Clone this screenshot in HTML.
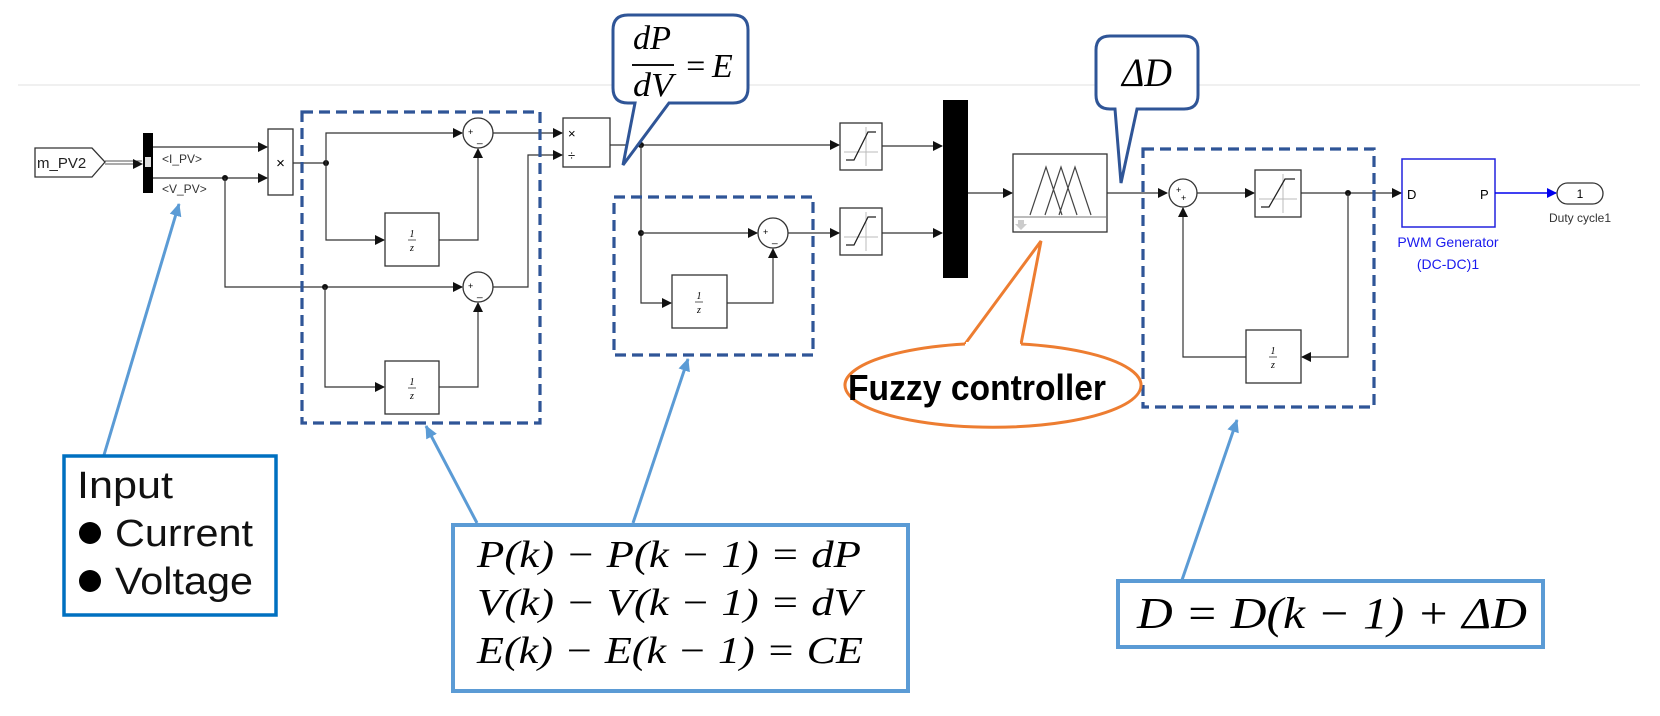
<!DOCTYPE html>
<html><head><meta charset="utf-8"><style>
html,body{margin:0;padding:0;background:#fff;}
svg{display:block}
.blk{fill:#fff;stroke:#333;stroke-width:1.3}
.ln{stroke:#333;stroke-width:1.2;fill:none}
.dash{fill:none;stroke:#2f5597;stroke-width:3.2;stroke-dasharray:11 6}
.sans{font-family:"Liberation Sans",Arial,sans-serif}
.math{font-family:"Liberation Serif",serif;font-style:italic}
</style></head><body>
<svg width="1660" height="716" viewBox="0 0 1660 716" xmlns="http://www.w3.org/2000/svg">
<defs>
<marker id="a" markerWidth="10" markerHeight="10" refX="9" refY="5" orient="auto" markerUnits="userSpaceOnUse"><path d="M0,0 L10,5 L0,10z" fill="#111"/></marker>
<marker id="ab" markerWidth="10" markerHeight="10" refX="9" refY="5" orient="auto" markerUnits="userSpaceOnUse"><path d="M0,0 L10,5 L0,10z" fill="#0000ee"/></marker>
<marker id="al" markerWidth="14" markerHeight="14" refX="12" refY="7" orient="auto" markerUnits="userSpaceOnUse"><path d="M0,1 L13,7 L0,13z" fill="#5b9bd5"/></marker>
</defs>
<line x1="18" y1="85" x2="1640" y2="85" stroke="#ececec" stroke-width="1.5"/>

<!-- m_PV2 -->
<path d="M35,148 L92,148 L105,162 L92,177 L35,177z" class="blk"/>
<text x="37" y="168" class="sans" font-size="15" fill="#222">m_PV2</text>
<line x1="105" y1="161" x2="142" y2="161" stroke="#555" stroke-width="1"/>
<line x1="105" y1="164" x2="142" y2="164" stroke="#555" stroke-width="1" marker-end="url(#a)"/>
<rect x="143" y="133" width="10" height="60" fill="#000"/>
<rect x="145" y="157" width="6" height="10" fill="#ddd"/>
<text x="162" y="163" class="sans" font-size="12" fill="#333">&lt;I_PV&gt;</text>
<text x="162" y="193" class="sans" font-size="12" fill="#333">&lt;V_PV&gt;</text>
<line x1="153" y1="147" x2="267" y2="147" class="ln" marker-end="url(#a)"/>
<line x1="153" y1="178" x2="267" y2="178" class="ln" marker-end="url(#a)"/>
<circle cx="225" cy="178" r="3" fill="#111"/>
<rect x="268" y="129" width="25" height="66" class="blk"/>
<text x="280.5" y="168" class="sans" font-size="15" text-anchor="middle">×</text>

<!-- box1 internals -->
<path d="M293,163 L326,163" class="ln"/>
<circle cx="326" cy="163" r="3" fill="#111"/>
<path d="M326,163 L326,133 L462,133" class="ln" marker-end="url(#a)"/>
<path d="M326,163 L326,240 L384,240" class="ln" marker-end="url(#a)"/>
<rect x="385" y="213" width="54" height="53" class="blk"/>
<text x="412" y="237" class="math" font-size="10" text-anchor="middle" font-style="normal">1</text><line x1="408" y1="240" x2="416" y2="240" stroke="#333" stroke-width="0.8"/><text x="412" y="251" class="math" font-size="10" text-anchor="middle">z</text>
<path d="M439,240 L478,240 L478,149" class="ln" marker-end="url(#a)"/>
<circle cx="478" cy="133" r="15" class="blk"/>
<text x="468" y="135" class="sans" font-size="9">+</text><text x="477" y="142" class="sans" font-size="10">_</text>
<path d="M493,133 L562,133" class="ln" marker-end="url(#a)"/>

<path d="M225,178 L225,287 L462,287" class="ln" marker-end="url(#a)"/>
<circle cx="325" cy="287" r="3" fill="#111"/>
<path d="M325,287 L325,387 L384,387" class="ln" marker-end="url(#a)"/>
<rect x="385" y="361" width="54" height="53" class="blk"/>
<text x="412" y="385" class="math" font-size="10" text-anchor="middle" font-style="normal">1</text><line x1="408" y1="388" x2="416" y2="388" stroke="#333" stroke-width="0.8"/><text x="412" y="399" class="math" font-size="10" text-anchor="middle">z</text>
<path d="M439,387 L478,387 L478,303" class="ln" marker-end="url(#a)"/>
<circle cx="478" cy="287" r="15" class="blk"/>
<text x="468" y="289" class="sans" font-size="9">+</text><text x="477" y="296" class="sans" font-size="10">_</text>
<path d="M493,287 L528,287 L528,155 L562,155" class="ln" marker-end="url(#a)"/>
<rect x="302" y="112" width="238" height="311" class="dash"/>

<!-- divide -->
<rect x="563" y="118" width="47" height="49" class="blk"/>
<text x="568" y="138" class="sans" font-size="13">×</text><text x="568" y="160" class="sans" font-size="13">÷</text>
<path d="M610,145 L839,145" class="ln" marker-end="url(#a)"/>
<circle cx="641" cy="145" r="3" fill="#111"/>
<path d="M641,145 L641,303 L671,303" class="ln" marker-end="url(#a)"/>
<circle cx="641" cy="233" r="3" fill="#111"/>
<path d="M641,233 L757,233" class="ln" marker-end="url(#a)"/>
<circle cx="773" cy="233" r="15" class="blk"/>
<text x="763" y="235" class="sans" font-size="9">+</text><text x="772" y="242" class="sans" font-size="10">_</text>
<rect x="672" y="275" width="55" height="53" class="blk"/>
<text x="699" y="299" class="math" font-size="10" text-anchor="middle" font-style="normal">1</text><line x1="695" y1="302" x2="703" y2="302" stroke="#333" stroke-width="0.8"/><text x="699" y="313" class="math" font-size="10" text-anchor="middle">z</text>
<path d="M727,303 L773,303 L773,249" class="ln" marker-end="url(#a)"/>
<path d="M788,233 L839,233" class="ln" marker-end="url(#a)"/>
<rect x="614" y="197" width="199" height="158" class="dash"/>

<!-- saturations -->
<rect x="840" y="123" width="42" height="47" class="blk"/>
<line x1="866" y1="127" x2="866" y2="166" stroke="#bbb" stroke-width="1"/><line x1="844" y1="152" x2="878" y2="152" stroke="#bbb" stroke-width="1"/>
<path d="M846,160 L854,160 L868,132 L876,132" stroke="#222" stroke-width="1.3" fill="none"/>
<rect x="840" y="208" width="42" height="47" class="blk"/>
<line x1="866" y1="212" x2="866" y2="251" stroke="#bbb" stroke-width="1"/><line x1="844" y1="237" x2="878" y2="237" stroke="#bbb" stroke-width="1"/>
<path d="M846,245 L854,245 L868,217 L876,217" stroke="#222" stroke-width="1.3" fill="none"/>
<path d="M882,146 L942,146" class="ln" marker-end="url(#a)"/>
<path d="M882,233 L942,233" class="ln" marker-end="url(#a)"/>
<rect x="943" y="100" width="25" height="178" fill="#000"/>
<path d="M968,193 L1012,193" class="ln" marker-end="url(#a)"/>

<!-- fuzzy -->
<rect x="1013" y="154" width="94" height="78" class="blk"/>
<line x1="1013" y1="217" x2="1107" y2="217" stroke="#777" stroke-width="1"/>
<path d="M1030,215 L1046,167 L1062,215 M1045,215 L1061,167 L1077,215 M1059,215 L1075,167 L1091,215" stroke="#444" stroke-width="1.2" fill="none"/>
<path d="M1018,220 L1024,220 L1024,224 L1027,224 L1021,230 L1015,224 L1018,224z" fill="#ccc"/>
<path d="M1107,193 L1167,193" class="ln" marker-end="url(#a)"/>

<!-- box3 -->
<circle cx="1183" cy="193" r="14" class="blk"/>
<text x="1176" y="193" class="sans" font-size="9">+</text><text x="1181" y="201" class="sans" font-size="9">+</text>
<path d="M1197,193 L1254,193" class="ln" marker-end="url(#a)"/>
<rect x="1255" y="170" width="46" height="47" class="blk"/>
<line x1="1283" y1="174" x2="1283" y2="213" stroke="#bbb" stroke-width="1"/><line x1="1259" y1="199" x2="1297" y2="199" stroke="#bbb" stroke-width="1"/>
<path d="M1261,207 L1269,207 L1285,179 L1295,179" stroke="#222" stroke-width="1.3" fill="none"/>
<path d="M1301,193 L1401,193" class="ln" marker-end="url(#a)"/>
<circle cx="1348" cy="193" r="3" fill="#111"/>
<path d="M1348,193 L1348,357 L1302,357" class="ln" marker-end="url(#a)"/>
<rect x="1246" y="330" width="55" height="53" class="blk"/>
<text x="1273" y="354" class="math" font-size="10" text-anchor="middle" font-style="normal">1</text><line x1="1269" y1="357" x2="1277" y2="357" stroke="#333" stroke-width="0.8"/><text x="1273" y="368" class="math" font-size="10" text-anchor="middle">z</text>
<path d="M1246,357 L1183,357 L1183,208" class="ln" marker-end="url(#a)"/>
<rect x="1143" y="149" width="231" height="258" class="dash"/>

<!-- PWM -->
<rect x="1402" y="159" width="93" height="68" fill="#fff" stroke="#2222dd" stroke-width="1.5"/>
<text x="1407" y="199" class="sans" font-size="13">D</text>
<text x="1480" y="199" class="sans" font-size="13">P</text>
<text x="1448" y="247" class="sans" font-size="14" fill="#1a1aee" text-anchor="middle">PWM Generator</text>
<text x="1448" y="269" class="sans" font-size="14" fill="#1a1aee" text-anchor="middle">(DC-DC)1</text>
<path d="M1495,193 L1556,193" stroke="#0000ee" stroke-width="1.4" marker-end="url(#ab)"/>
<rect x="1557" y="183" width="46" height="21" rx="10.5" class="blk" stroke-width="1.6"/>
<text x="1580" y="198" class="sans" font-size="12" text-anchor="middle">1</text>
<text x="1580" y="222" class="sans" font-size="12" fill="#333" text-anchor="middle">Duty cycle1</text>

<!-- callouts -->
<path d="M628,15 L733,15 Q748,15 748,30 L748,88 Q748,103 733,103 L669,103 L623,165 L635,103 L628,103 Q613,103 613,88 L613,30 Q613,15 628,15z" fill="#fff" stroke="#2f5597" stroke-width="3"/>
<text x="633" y="49" class="math" font-size="34" textLength="38" lengthAdjust="spacingAndGlyphs">dP</text>
<line x1="632" y1="65" x2="674" y2="65" stroke="#111" stroke-width="2"/>
<text x="633" y="96" class="math" font-size="34" textLength="40" lengthAdjust="spacingAndGlyphs">dV</text>
<text x="684" y="77" class="math" font-size="34" font-style="normal">=</text>
<text x="712" y="77" class="math" font-size="34">E</text>

<path d="M1110,36 L1184,36 Q1198,36 1198,50 L1198,95 Q1198,109 1184,109 L1137,109 L1121,183 L1115,109 L1110,109 Q1096,109 1096,95 L1096,50 Q1096,36 1110,36z" fill="#fff" stroke="#2f5597" stroke-width="3"/>
<text x="1122" y="86" class="math" font-size="40" textLength="50" lengthAdjust="spacingAndGlyphs">ΔD</text>

<!-- fuzzy callout -->
<path d="M965,344 L1041,241 L1021,344" fill="#fff" stroke="#ed7d31" stroke-width="3" stroke-linejoin="miter"/>
<path d="M965,344 A148,42 0 1,0 1021,344" fill="#fff" stroke="#ed7d31" stroke-width="3"/>
<path d="M966,344 L1020,344" stroke="#fff" stroke-width="4"/>
<text x="848" y="400" class="sans" font-size="36" font-weight="bold" textLength="258" lengthAdjust="spacingAndGlyphs">Fuzzy controller</text>

<!-- Input box -->
<line x1="104" y1="455" x2="179" y2="204" stroke="#5b9bd5" stroke-width="3" marker-end="url(#al)"/>
<rect x="64" y="456" width="212" height="159" fill="#fff" stroke="#0070c0" stroke-width="3.5"/>
<text x="77" y="498" class="sans" font-size="38" fill="#111" textLength="96" lengthAdjust="spacingAndGlyphs">Input</text>
<circle cx="90" cy="533" r="11" fill="#000"/>
<text x="115" y="546" class="sans" font-size="38" fill="#111" textLength="138" lengthAdjust="spacingAndGlyphs">Current</text>
<circle cx="90" cy="581" r="11" fill="#000"/>
<text x="115" y="594" class="sans" font-size="38" fill="#111" textLength="138" lengthAdjust="spacingAndGlyphs">Voltage</text>

<!-- formula box -->
<line x1="477" y1="523" x2="426" y2="426" stroke="#5b9bd5" stroke-width="3" marker-end="url(#al)"/>
<line x1="633" y1="523" x2="688" y2="359" stroke="#5b9bd5" stroke-width="3" marker-end="url(#al)"/>
<rect x="453" y="525" width="455" height="166" fill="#fff" stroke="#5b9bd5" stroke-width="4"/>
<text x="477" y="567" class="math" font-size="38" textLength="384" lengthAdjust="spacingAndGlyphs">P(k) − P(k − 1) = dP</text>
<text x="477" y="615" class="math" font-size="38" textLength="384" lengthAdjust="spacingAndGlyphs">V(k) − V(k − 1) = dV</text>
<text x="477" y="663" class="math" font-size="38" textLength="386" lengthAdjust="spacingAndGlyphs">E(k) − E(k − 1) = CE</text>

<!-- D box -->
<line x1="1182" y1="580" x2="1237" y2="420" stroke="#5b9bd5" stroke-width="3" marker-end="url(#al)"/>
<rect x="1118" y="581" width="425" height="66" fill="#fff" stroke="#5b9bd5" stroke-width="4"/>
<text x="1137" y="628" class="math" font-size="44" textLength="390" lengthAdjust="spacingAndGlyphs">D = D(k − 1) + ΔD</text>
</svg>
</body></html>
